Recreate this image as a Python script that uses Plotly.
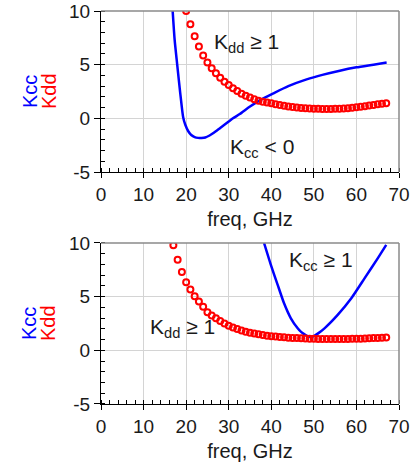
import plotly.graph_objects as go

# ---------------- data ----------------
# top plot
freq_kcc_top = [16.8, 17.3, 17.9, 18.6, 19.3, 19.8, 20.5, 21.2, 22.0, 22.8, 23.6, 24.5, 25.5, 26.5,
                28.0, 30.0, 31.0, 32.6, 35.0, 37.4, 40.5, 44.0, 48.3, 52.0, 56.1, 60.0, 64.0, 67.1]
kcc_top = [10.2, 7.3, 5.0, 2.4, 0.1, -0.6, -1.2, -1.55, -1.75, -1.82, -1.82, -1.78, -1.6, -1.35,
           -0.9, -0.3, 0.0, 0.4, 1.1, 1.7, 2.33, 3.0, 3.63, 4.05, 4.44, 4.75, 5.0, 5.2]

freq_kdd_top = list(range(20, 68))
kdd_top = [10.0, 8.76, 7.65, 6.7, 5.85, 5.2, 4.66, 4.19, 3.78, 3.41,
           3.1, 2.8, 2.55, 2.3, 2.1, 1.93, 1.78, 1.65, 1.55, 1.47,
           1.4, 1.32, 1.24, 1.17, 1.11, 1.06, 1.01, 0.97, 0.94, 0.92,
           0.9, 0.89, 0.88, 0.88, 0.88, 0.89, 0.9, 0.92, 0.95, 0.99,
           1.03, 1.08, 1.13, 1.19, 1.25, 1.31, 1.36, 1.41]

# bottom plot
freq_kcc_bot = [38.3, 39.9, 41.5, 43.0, 44.6, 46.2, 47.0, 47.8, 48.4, 48.9, 49.5, 50.1, 51.0,
                52.5, 55.6, 58.8, 61.9, 65.0, 67.0]
kcc_bot = [10.0, 7.96, 6.1, 4.38, 2.98, 2.05, 1.72, 1.49, 1.35, 1.28, 1.27, 1.35, 1.58,
           2.05, 3.3, 4.85, 6.7, 8.57, 9.82]

freq_kdd_bot = list(range(17, 68))
kdd_bot = [9.79, 8.45, 7.3, 6.34, 5.66, 5.03, 4.54, 4.05, 3.55, 3.25,
           2.98, 2.73, 2.5, 2.3, 2.13, 1.98, 1.85, 1.74, 1.64, 1.56,
           1.49, 1.43, 1.37, 1.32, 1.28, 1.24, 1.21, 1.18, 1.16, 1.14,
           1.12, 1.1, 1.08, 1.07, 1.06, 1.06, 1.06, 1.06, 1.06, 1.06,
           1.06, 1.06, 1.07, 1.08, 1.09, 1.1, 1.12, 1.14, 1.16, 1.18, 1.2]

x_ticks = [0, 10, 20, 30, 40, 50, 60, 70]
y_ticks = [-5, 0, 5, 10]
y_tick_labels = ["-5", "0", "5", "10"]

# ---------------- figure ----------------
FONT = "Liberation Sans, Arial, sans-serif"
BLUE = "#0000ff"
RED = "#ff0000"

fig = go.Figure()

def add_pair(fx, fy, dx, dy, xa, ya):
    fig.add_trace(go.Scatter(x=fx, y=fy, mode="lines", line=dict(color=BLUE, width=2.5, shape="spline", smoothing=0.6),
                             xaxis=xa, yaxis=ya, showlegend=False))
    fig.add_trace(go.Scatter(x=dx, y=dy, mode="markers",
                             marker=dict(symbol="circle-open", color=RED, size=6,
                                         line=dict(color=RED, width=2)),
                             xaxis=xa, yaxis=ya, showlegend=False))

add_pair(freq_kcc_top, kcc_top, freq_kdd_top, kdd_top, "x", "y")
add_pair(freq_kcc_bot, kcc_bot, freq_kdd_bot, kdd_bot, "x2", "y2")

def xax(anchor):
    return dict(anchor=anchor, range=[0, 70], tickvals=x_ticks, showline=True, linecolor="black",
                linewidth=1, showgrid=True, gridcolor="#d4d4d4", gridwidth=1, zeroline=False,
                ticks="outside", ticklen=5, tickcolor="black", automargin=False,
                minor=dict(dtick=2, ticks="inside", ticklen=4, tickcolor="black", showgrid=False),
                tickfont=dict(family=FONT, size=19, color="#1a1a1a"),
                title=dict(text="freq, GHz", font=dict(family=FONT, size=20, color="#1a1a1a"), standoff=8))

def yax(anchor, domain):
    return dict(anchor=anchor, domain=domain, range=[-5, 10], tickvals=y_ticks, ticktext=y_tick_labels,
                showline=True, automargin=False,
                linecolor="black", linewidth=1, showgrid=True, gridcolor="#d4d4d4", gridwidth=1,
                zeroline=False, ticks="outside", ticklen=6, tickcolor="black",
                minor=dict(dtick=1, ticks="inside", ticklen=4, tickcolor="black", showgrid=False),
                tickfont=dict(family=FONT, size=19, color="#1a1a1a"))

fig.update_layout(
    width=418, height=465,
    margin=dict(l=101, r=19, t=11, b=61, autoexpand=False),
    paper_bgcolor="white", plot_bgcolor="white",
    xaxis=xax("y"), yaxis=yax("x", [0.5903, 1.0]),
    xaxis2=xax("y2"), yaxis2=yax("x2", [0.0, 0.4097]),
)

# top / right frame lines (gray)
for xr, yr in [("x domain", "y domain"), ("x2 domain", "y2 domain")]:
    fig.add_shape(type="line", xref=xr, yref=yr, x0=0, x1=1, y0=1, y1=1,
                  line=dict(color="#8a8a8a", width=1.5))
    fig.add_shape(type="line", xref=xr, yref=yr, x0=1, x1=1, y0=0, y1=1,
                  line=dict(color="#8a8a8a", width=1.5))

# y-axis labels (two colors, rotated)
for yr in ["y domain", "y2 domain"]:
    fig.add_annotation(text="Kcc", textangle=-90, xref="paper", yref=yr, x=-0.24, y=0.5,
                       xanchor="center", yanchor="middle",
                       showarrow=False, font=dict(family=FONT, size=20, color=BLUE))
    fig.add_annotation(text="Kdd", textangle=-90, xref="paper", yref=yr, x=-0.176, y=0.5,
                       xanchor="center", yanchor="middle",
                       showarrow=False, font=dict(family=FONT, size=20, color=RED))

AF = dict(family=FONT, size=21, color="#1a1a1a")
fig.add_annotation(text="K<sub>dd</sub> ≥ 1", x=26.1, y=7.0, xref="x", yref="y",
                   xanchor="left", yanchor="middle", showarrow=False, font=AF)
fig.add_annotation(text="K<sub>cc</sub> < 0", x=29.8, y=-2.77, xref="x", yref="y",
                   xanchor="left", yanchor="middle", showarrow=False, font=AF)
fig.add_annotation(text="K<sub>dd</sub> ≥ 1", x=11.1, y=2.1, xref="x2", yref="y2",
                   xanchor="left", yanchor="middle", showarrow=False, font=AF)
fig.add_annotation(text="K<sub>cc</sub> ≥ 1", x=43.7, y=8.3, xref="x2", yref="y2",
                   xanchor="left", yanchor="middle", showarrow=False, font=AF)

fig.write_html("out.html")
